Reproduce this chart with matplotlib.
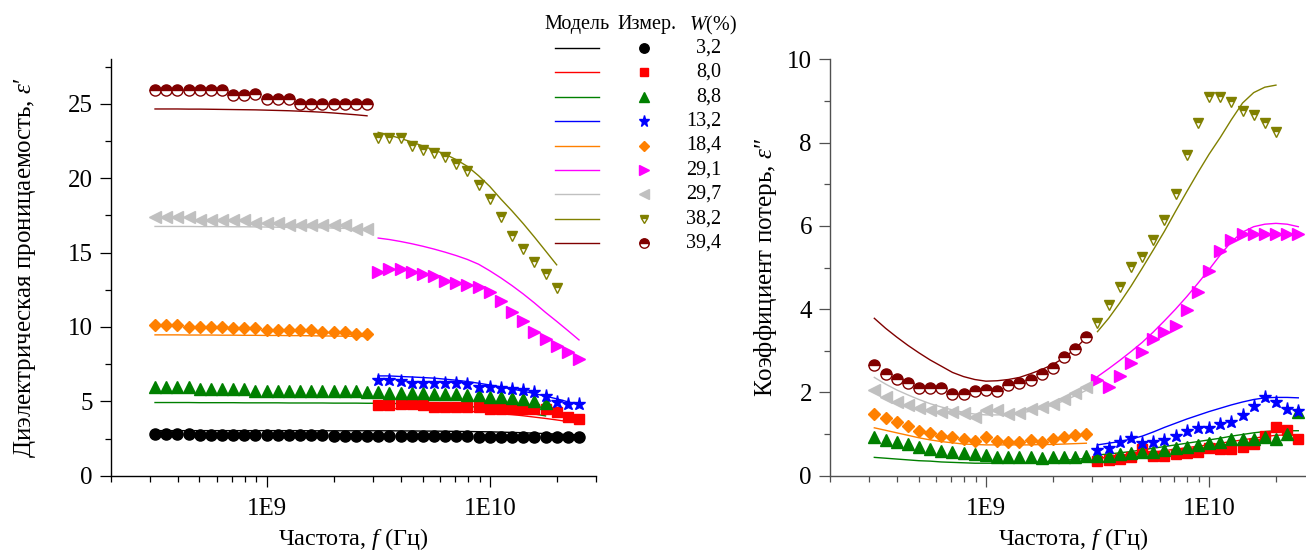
import numpy as np
import matplotlib
matplotlib.use("Agg")
import matplotlib.pyplot as plt
from matplotlib.lines import Line2D
from matplotlib.ticker import FixedLocator, FuncFormatter, MultipleLocator, NullFormatter

plt.rcParams['font.family'] = ['Liberation Serif', 'DejaVu Serif']
plt.rcParams['mathtext.fontset'] = 'custom'
plt.rcParams['mathtext.rm'] = 'Liberation Serif'
plt.rcParams['mathtext.it'] = 'Liberation Serif:italic'

# частоты измерений (Гц): низкочастотный и высокочастотный участки
f_low = np.array([0.316, 0.355, 0.398, 0.447, 0.501, 0.562, 0.631, 0.708, 0.794, 0.891,
                  1.000, 1.122, 1.259, 1.413, 1.585, 1.778, 1.995, 2.239, 2.512, 2.818]) * 1e9
f_high = np.array([3.162, 3.548, 3.981, 4.467, 5.012, 5.623, 6.310, 7.079, 7.943, 8.913,
                   10.00, 11.22, 12.59, 14.13, 15.85, 17.78, 19.95, 22.39, 25.12]) * 1e9

# ---------- eps' (левый график) ----------
e1_32 = [2.78, 2.80, 2.78, 2.78, 2.76, 2.76, 2.76, 2.75, 2.74, 2.74,
         2.73, 2.73, 2.72, 2.72, 2.71, 2.71, 2.70, 2.70, 2.70, 2.69,
         2.68, 2.68, 2.67, 2.67, 2.66, 2.65, 2.65, 2.64, 2.64, 2.63,
         2.62, 2.61, 2.61, 2.60, 2.60, 2.59, 2.58, 2.57, 2.57]
e1_32_mod = [3.03, 3.03, 3.03, 3.03, 3.03, 3.03, 3.03, 3.03, 3.03, 3.03,
             3.03, 3.03, 3.03, 3.03, 3.02, 3.02, 3.02, 3.02, 3.02, 3.02,
             3.02, 3.02, 3.01, 3.01, 3.00, 3.00, 2.99, 2.98, 2.97, 2.96,
             2.95, 2.93, 2.91, 2.89, 2.86, 2.83, 2.80, 2.77, 2.74]
e1_80 = [4.78, 4.78, 4.80, 4.85, 4.74, 4.62, 4.62, 4.60, 4.62, 4.60,
         4.51, 4.47, 4.47, 4.47, 4.47, 4.47, 4.29, 3.95, 3.82]
e1_80_mod = [4.54, 4.52, 4.50, 4.48, 4.46, 4.43, 4.40, 4.37, 4.33, 4.29,
             4.24, 4.18, 4.11, 4.03, 3.94, 3.85, 3.75, 3.64, 3.53]
e1_88 = [5.99, 5.95, 5.95, 5.95, 5.86, 5.86, 5.86, 5.86, 5.86, 5.70,
         5.70, 5.70, 5.72, 5.72, 5.72, 5.70, 5.70, 5.70, 5.70, 5.63,
         5.63, 5.59, 5.59, 5.59, 5.54, 5.48, 5.48, 5.48, 5.41, 5.41,
         5.32, 5.32, 5.25, 5.16, 5.05, 4.92]
e1_88_mod = [4.92, 4.92, 4.92, 4.92, 4.91, 4.91, 4.91, 4.91, 4.90, 4.90,
             4.90, 4.90, 4.89, 4.89, 4.89, 4.89, 4.88, 4.88, 4.88, 4.87,
             4.87, 4.86, 4.85, 4.83, 4.81, 4.78, 4.75, 4.71, 4.66, 4.60,
             4.53, 4.45, 4.36, 4.26, 4.15, 4.02]
e1_132 = [6.44, 6.44, 6.40, 6.26, 6.26, 6.26, 6.26, 6.26, 6.15, 5.99,
          5.99, 5.93, 5.86, 5.77, 5.63, 5.36, 4.98, 4.83, 4.83]
e1_132_mod = [6.71, 6.71, 6.67, 6.64, 6.60, 6.56, 6.49, 6.42, 6.33, 6.22,
              6.10, 5.97, 5.83, 5.68, 5.52, 5.35, 5.17, 4.97, 4.76]
e1_184 = [10.12, 10.12, 10.12, 10.03, 10.03, 10.03, 10.03, 9.92, 9.92, 9.92,
          9.81, 9.81, 9.81, 9.81, 9.81, 9.68, 9.68, 9.68, 9.54, 9.54]
e1_184_mod = [9.47, 9.47, 9.47, 9.46, 9.46, 9.46, 9.45, 9.45, 9.44, 9.44,
              9.43, 9.43, 9.42, 9.42, 9.41, 9.40, 9.39, 9.38, 9.37, 9.36]
e1_291 = [13.73, 13.91, 13.91, 13.73, 13.58, 13.44, 13.11, 12.95, 12.79, 12.66,
          12.34, 11.78, 11.00, 10.37, 9.69, 9.20, 8.69, 8.31, 7.83]
e1_291_mod = [15.98, 15.88, 15.75, 15.60, 15.43, 15.24, 15.03, 14.80, 14.54, 14.22,
              13.78, 13.30, 12.78, 12.22, 11.62, 10.98, 10.38, 9.76, 9.13]
e1_297 = [17.39, 17.39, 17.39, 17.39, 17.17, 17.17, 17.17, 17.17, 17.17, 16.99,
          16.99, 16.99, 16.83, 16.83, 16.83, 16.83, 16.83, 16.83, 16.59, 16.59]
e1_297_mod = [16.76, 16.76, 16.76, 16.76, 16.75, 16.75, 16.75, 16.74, 16.74, 16.73,
              16.72, 16.71, 16.70, 16.69, 16.68, 16.67, 16.65, 16.63, 16.61, 16.59]
e1_382 = [22.71, 22.71, 22.71, 22.19, 21.92, 21.70, 21.41, 20.96, 20.46, 19.52,
          18.60, 17.37, 16.13, 15.24, 14.34, 13.56, 12.61]
e1_382_mod = [23.09, 22.90, 22.68, 22.44, 22.17, 21.90, 21.62, 21.25, 20.80, 20.17,
              19.45, 18.60, 17.80, 16.95, 16.05, 15.12, 14.18]
e1_394 = [25.92, 25.92, 25.92, 25.92, 25.92, 25.92, 25.92, 25.60, 25.60, 25.65,
          25.33, 25.33, 25.33, 25.02, 25.02, 25.02, 25.02, 25.02, 25.02, 25.02]
e1_394_mod = [24.66, 24.66, 24.66, 24.65, 24.65, 24.64, 24.63, 24.62, 24.61, 24.60,
              24.58, 24.56, 24.54, 24.51, 24.48, 24.44, 24.39, 24.33, 24.27, 24.20]

# ---------- eps'' (правый график) ----------
e2_80 = [0.35, 0.38, 0.40, 0.46, 0.63, 0.48, 0.48, 0.51, 0.54, 0.58,
         0.66, 0.63, 0.65, 0.70, 0.75, 0.95, 1.18, 1.10, 0.87]
e2_80_mod = [0.42, 0.44, 0.47, 0.50, 0.53, 0.57, 0.60, 0.64, 0.67, 0.71,
             0.74, 0.78, 0.82, 0.86, 0.90, 0.94, 0.97, 0.98, 0.98]
e2_88 = [0.94, 0.86, 0.82, 0.76, 0.70, 0.64, 0.60, 0.58, 0.54, 0.52,
         0.49, 0.46, 0.46, 0.46, 0.44, 0.42, 0.44, 0.44, 0.46, 0.47,
         0.47, 0.48, 0.52, 0.54, 0.58, 0.58, 0.62, 0.66, 0.70, 0.74,
         0.78, 0.80, 0.87, 0.87, 0.88, 0.94, 0.87, 1.00, 1.52]
e2_88_mod_low = [0.44, 0.42, 0.40, 0.38, 0.36, 0.35, 0.33, 0.32, 0.31, 0.30,
                 0.30, 0.30, 0.30, 0.31, 0.32, 0.33, 0.35, 0.37, 0.39, 0.42]
e2_88_mod_high = [0.50, 0.52, 0.55, 0.58, 0.62, 0.66, 0.70, 0.74, 0.78, 0.82,
                  0.86, 0.90, 0.95, 0.99, 1.03, 1.06, 1.08, 1.08, 1.08]
e2_132 = [0.62, 0.66, 0.80, 0.90, 0.78, 0.80, 0.86, 0.96, 1.08, 1.14,
          1.14, 1.23, 1.30, 1.46, 1.67, 1.88, 1.78, 1.60, 1.56]
e2_132_mod = [0.74, 0.78, 0.82, 0.88, 0.95, 1.05, 1.16, 1.26, 1.36, 1.45,
              1.54, 1.62, 1.70, 1.77, 1.83, 1.87, 1.88, 1.88, 1.87]
e2_184 = [1.47, 1.38, 1.28, 1.19, 1.08, 1.02, 0.96, 0.92, 0.88, 0.84,
          0.94, 0.83, 0.82, 0.80, 0.86, 0.82, 0.87, 0.94, 0.98, 1.00]
e2_184_mod = [1.15, 1.09, 1.03, 0.97, 0.91, 0.86, 0.82, 0.79, 0.76, 0.75,
              0.74, 0.74, 0.74, 0.74, 0.74, 0.75, 0.75, 0.76, 0.77, 0.78]
e2_291 = [2.31, 2.14, 2.40, 2.71, 2.96, 3.28, 3.44, 3.60, 3.97, 4.40,
          4.91, 5.40, 5.66, 5.80, 5.80, 5.80, 5.80, 5.80, 5.80]
e2_291_mod = [2.38, 2.57, 2.77, 2.98, 3.20, 3.45, 3.72, 4.00, 4.30, 4.62,
              4.95, 5.30, 5.62, 5.85, 5.98, 6.04, 6.06, 6.04, 5.98]
e2_297 = [2.07, 1.90, 1.78, 1.70, 1.63, 1.58, 1.52, 1.52, 1.50, 1.42,
          1.58, 1.58, 1.47, 1.50, 1.60, 1.64, 1.71, 1.85, 1.99, 2.14]
e2_297_mod = [2.36, 2.20, 2.06, 1.94, 1.83, 1.73, 1.65, 1.58, 1.52, 1.48,
              1.46, 1.46, 1.47, 1.50, 1.55, 1.62, 1.70, 1.80, 1.92, 2.05]
e2_382 = [3.66, 4.10, 4.52, 5.02, 5.26, 5.66, 6.14, 6.76, 7.69, 8.46,
          9.09, 9.09, 8.98, 8.77, 8.66, 8.46, 8.26]
e2_382_mod = [3.46, 3.78, 4.15, 4.55, 4.98, 5.42, 5.87, 6.35, 6.82, 7.28,
              7.72, 8.12, 8.55, 8.95, 9.20, 9.33, 9.38]
e2_394 = [2.66, 2.44, 2.32, 2.22, 2.11, 2.11, 2.11, 1.96, 1.96, 2.04,
          2.07, 2.04, 2.17, 2.22, 2.30, 2.44, 2.59, 2.84, 3.04, 3.32]
e2_394_mod = [3.78, 3.54, 3.33, 3.13, 2.95, 2.78, 2.63, 2.48, 2.38, 2.31,
              2.27, 2.28, 2.31, 2.36, 2.45, 2.55, 2.67, 2.83, 3.05, 3.32]

w_labels = ["3,2", "8,0", "8,8", "13,2", "18,4", "29,1", "29,7", "38,2", "39,4"]
colors = ["black", "#ff0000", "#008000", "#0000ff", "#ff8000",
          "#ff00ff", "#c0c0c0", "#808000", "#800000"]
markers = ["o", "s", "^", "*", "D", ">", "<", "v", "o"]
msizes = [8, 6.5, 8, 9.5, 6, 8, 8, 7.5, 8]
half = [False, False, False, False, False, False, False, True, True]


def mstyle(i):
    kw = dict(ls="none", marker=markers[i], ms=msizes[i], color=colors[i],
              mec=colors[i], mew=1.0, zorder=3)
    if half[i]:
        kw.update(fillstyle="top", markerfacecoloralt="white")
    return kw


W, H = 1306, 552
fig = plt.figure(figsize=(W / 100, H / 100), dpi=100)
ax1 = fig.add_axes([110.7 / W, 1 - 475.7 / H, 485.5 / W, 416.4 / H])
ax2 = fig.add_axes([830 / W, 1 - 475.7 / H, 485.5 / W, 416.4 / H])

lw = 1.0
f_all = np.concatenate([f_low, f_high])

# левый график
ax1.plot(f_all, e1_32_mod, color=colors[0], lw=lw)
ax1.plot(f_all, e1_32, **mstyle(0))
ax1.plot(f_high, e1_80_mod, color=colors[1], lw=lw)
ax1.plot(f_high, e1_80, **mstyle(1))
ax1.plot(f_all[:36], e1_88_mod, color=colors[2], lw=lw)
ax1.plot(f_all[:36], e1_88, **mstyle(2))
ax1.plot(f_high, e1_132_mod, color=colors[3], lw=lw)
ax1.plot(f_high, e1_132, **mstyle(3))
ax1.plot(f_low, e1_184_mod, color=colors[4], lw=lw)
ax1.plot(f_low, e1_184, **mstyle(4))
ax1.plot(f_high, e1_291_mod, color=colors[5], lw=lw)
ax1.plot(f_high, e1_291, **mstyle(5))
ax1.plot(f_low, e1_297_mod, color=colors[6], lw=lw)
ax1.plot(f_low, e1_297, **mstyle(6))
ax1.plot(f_high[:17], e1_382_mod, color=colors[7], lw=lw)
ax1.plot(f_high[:17], e1_382, **mstyle(7))
ax1.plot(f_low, e1_394_mod, color=colors[8], lw=lw)
ax1.plot(f_low, e1_394, **mstyle(8))

# правый график
ax2.plot(f_high, e2_80_mod, color=colors[1], lw=lw)
ax2.plot(f_high, e2_80, **mstyle(1))
ax2.plot(f_low, e2_88_mod_low, color=colors[2], lw=lw)
ax2.plot(f_high, e2_88_mod_high, color=colors[2], lw=lw)
ax2.plot(f_all, e2_88, **mstyle(2))
ax2.plot(f_high, e2_132_mod, color=colors[3], lw=lw)
ax2.plot(f_high, e2_132, **mstyle(3))
ax2.plot(f_low, e2_184_mod, color=colors[4], lw=lw)
ax2.plot(f_low, e2_184, **mstyle(4))
ax2.plot(f_high, e2_291_mod, color=colors[5], lw=lw)
ax2.plot(f_high, e2_291, **mstyle(5))
ax2.plot(f_low, e2_297_mod, color=colors[6], lw=lw)
ax2.plot(f_low, e2_297, **mstyle(6))
ax2.plot(f_high[:17], e2_382_mod, color=colors[7], lw=lw)
ax2.plot(f_high[:17], e2_382, **mstyle(7))
ax2.plot(f_low, e2_394_mod, color=colors[8], lw=lw)
ax2.plot(f_low, e2_394, **mstyle(8))

fs = 18
minor_x = [k * 10 ** p for p in (8, 9) for k in range(2, 10)] + [2e10, 3e10]
for ax, spc in ((ax1, "black"), (ax2, "#505050")):
    ax.set_xscale("log")
    ax.set_xlim(2e8, 3e10)
    ax.xaxis.set_major_locator(FixedLocator([1e9, 1e10]))
    ax.xaxis.set_major_formatter(FuncFormatter(lambda v, p: "1E%d" % round(np.log10(v))))
    ax.xaxis.set_minor_locator(FixedLocator(minor_x))
    ax.xaxis.set_minor_formatter(NullFormatter())
    for s in ("top", "right"):
        ax.spines[s].set_visible(False)
    for s in ("left", "bottom"):
        ax.spines[s].set_color(spc)
        ax.spines[s].set_linewidth(1.0)
    ax.tick_params(which="major", direction="out", length=8, width=0.9,
                   labelsize=fs, color=spc, pad=5)
    ax.tick_params(axis="x", which="major", pad=8)
    ax.tick_params(which="minor", direction="out", length=4, width=0.9, color=spc)
    ax.set_xlabel("Частота, $f$ (Гц)", fontsize=17.5)
    ax.xaxis.set_label_coords(0.5, -0.12)

ax1.set_ylim(0, 28)
ax1.yaxis.set_major_locator(MultipleLocator(5))
ax1.yaxis.set_minor_locator(MultipleLocator(2.5))
ax1.set_ylabel("Диэлектрическая проницаемость, $\\varepsilon$\u2032", fontsize=fs)
ax1.yaxis.set_label_coords(-0.15, 0.5)

ax2.set_ylim(0, 10)
ax2.yaxis.set_major_locator(MultipleLocator(2))
ax2.yaxis.set_minor_locator(MultipleLocator(1))
ax2.set_ylabel("Коэффициент потерь, $\\varepsilon$\u2033", fontsize=fs)
ax2.yaxis.set_label_coords(-0.105, 0.5)

# легенда (таблица: модель / измерение / W)
fs_leg = 14.5
fig.text(577 / W, 1 - 25 / H, "Модель", ha="center", va="center", fontsize=fs_leg)
fig.text(647 / W, 1 - 25 / H, "Измер.", ha="center", va="center", fontsize=fs_leg)
fig.text(713 / W, 1 - 25 / H, "$W$(%)", ha="center", va="center", fontsize=fs_leg)
for i, lab in enumerate(w_labels):
    yy = 1 - (47.7 + 24.45 * i) / H
    fig.add_artist(Line2D([555 / W, 599 / W], [yy, yy], color=colors[i], lw=lw,
                          transform=fig.transFigure))
    kw = mstyle(i)
    kw.pop("ls")
    kw.pop("zorder")
    kw["ms"] = kw["ms"] * 0.85
    fig.add_artist(Line2D([644 / W], [yy], transform=fig.transFigure, ls="none", **kw))
    fig.text(721 / W, yy, lab, ha="right", va="center", fontsize=fs_leg)

fig.savefig("out.png", dpi=100)
